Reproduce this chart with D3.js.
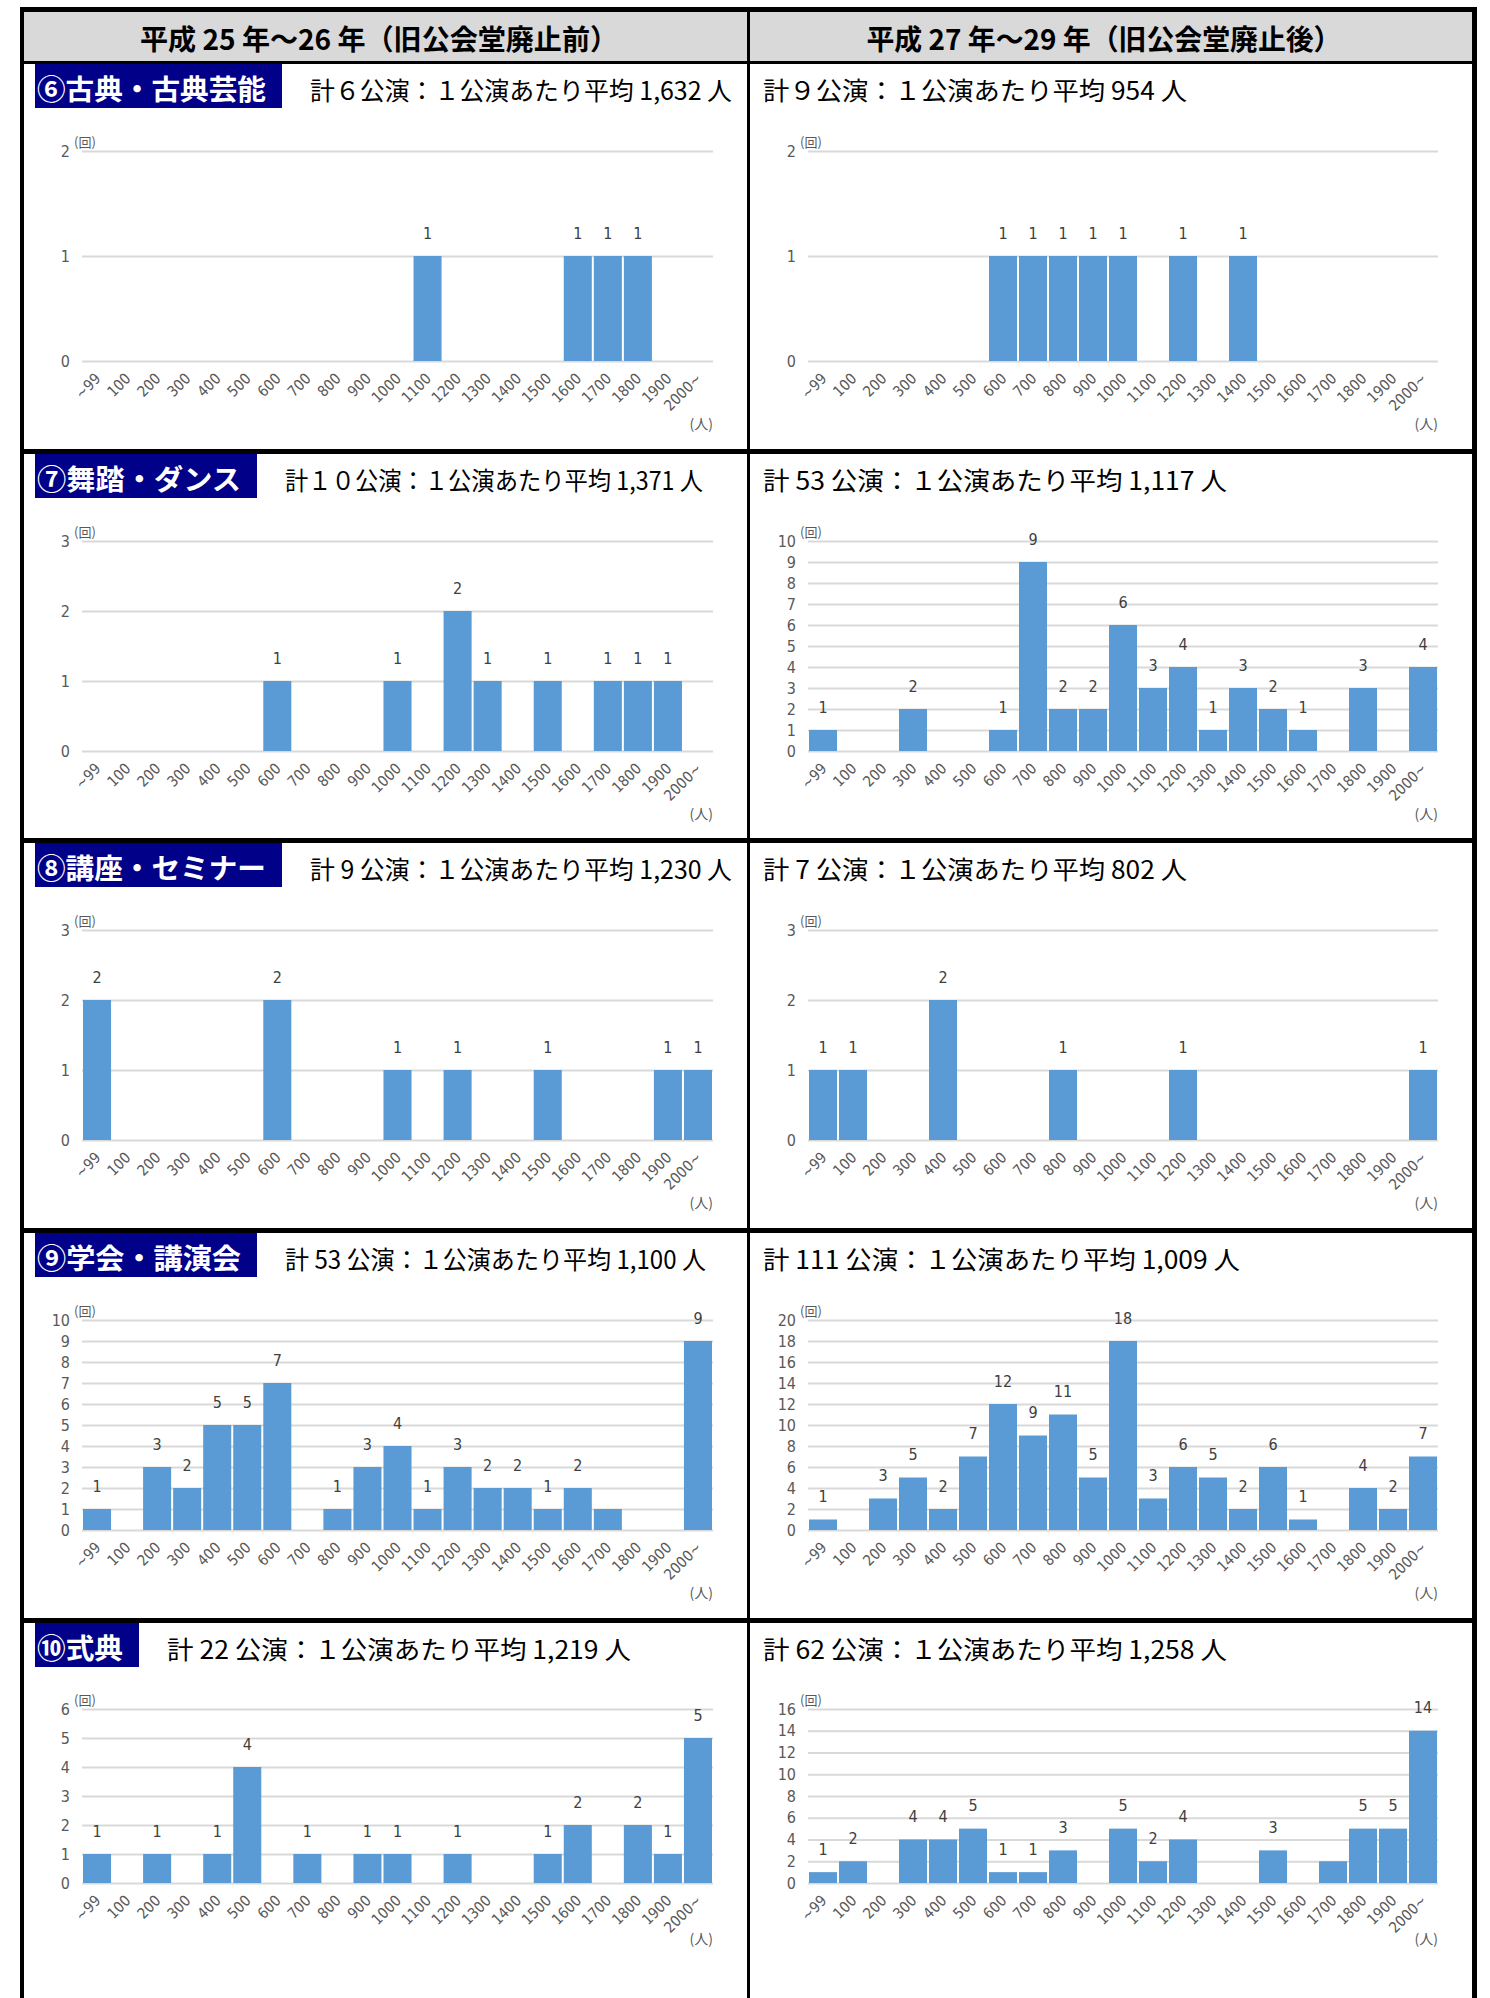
<!DOCTYPE html>
<html><head><meta charset="utf-8">
<script src="https://cdn.jsdelivr.net/npm/d3@7/dist/d3.min.js"></script>
<style>
html,body{margin:0;padding:0;background:#fff;}
svg{display:block;}
</style></head>
<body>
<script>
// ---------------- data ----------------
const categories = ["~99","100","200","300","400","500","600","700","800","900","1000","1100","1200","1300","1400","1500","1600","1700","1800","1900","2000~"];
const headerTitles = ["平成 25 年～26 年（旧公会堂廃止前）", "平成 27 年～29 年（旧公会堂廃止後）"];
const genreTitles = ["⑥古典・古典芸能", "⑦舞踏・ダンス", "⑧講座・セミナー", "⑨学会・講演会", "⑩式典"];
const subtitlesBefore = [
  "計６公演：１公演あたり平均 1,632 人",
  "計１０公演：１公演あたり平均 1,371 人",
  "計 9 公演：１公演あたり平均 1,230 人",
  "計 53 公演：１公演あたり平均 1,100 人",
  "計 22 公演：１公演あたり平均 1,219 人"
];
const subtitlesAfter = [
  "計９公演：１公演あたり平均 954 人",
  "計 53 公演：１公演あたり平均 1,117 人",
  "計 7 公演：１公演あたり平均 802 人",
  "計 111 公演：１公演あたり平均 1,009 人",
  "計 62 公演：１公演あたり平均 1,258 人"
];
const kotenBefore    = [0,0,0,0,0,0,0,0,0,0,0,1,0,0,0,0,1,1,1,0,0];
const kotenAfter     = [0,0,0,0,0,0,1,1,1,1,1,0,1,0,1,0,0,0,0,0,0];
const danceBefore    = [0,0,0,0,0,0,1,0,0,0,1,0,2,1,0,1,0,1,1,1,0];
const danceAfter     = [1,0,0,2,0,0,1,9,2,2,6,3,4,1,3,2,1,0,3,0,4];
const seminarBefore  = [2,0,0,0,0,0,2,0,0,0,1,0,1,0,0,1,0,0,0,1,1];
const seminarAfter   = [1,1,0,0,2,0,0,0,1,0,0,0,1,0,0,0,0,0,0,0,1];
const lectureBefore  = [1,0,3,2,5,5,7,0,1,3,4,1,3,2,2,1,2,1,0,0,9];
const lectureAfter   = [1,0,3,5,2,7,12,9,11,5,18,3,6,5,2,6,1,0,4,2,7];
const ceremonyBefore = [1,0,1,0,1,4,0,1,0,1,1,0,1,0,0,1,2,0,2,1,5];
const ceremonyAfter  = [1,2,0,4,4,5,1,1,3,0,5,2,4,0,0,3,0,2,5,5,14];
// y-axis maxima and tick steps, per row: [before, after]
const yMax   = [[2,2],[3,10],[3,3],[10,20],[6,16]];
const yStep  = [[1,1],[1,1],[1,1],[1,2],[1,2]];
// categories whose value label is not shown in the source
const hiddenLabels = {"3-0":["1700"], "4-1":["1700"]};
const series = [[kotenBefore,kotenAfter],[danceBefore,danceAfter],[seminarBefore,seminarAfter],[lectureBefore,lectureAfter],[ceremonyBefore,ceremonyAfter]];
const yUnit = "(回)", xUnit = "(人)";

// ---------------- layout ----------------
const W = 1490, H = 1998;
const JP = "'Noto Sans CJK JP','Noto Sans CJK SC',sans-serif";
const NUM = "'Liberation Sans Narrow','DejaVu Sans Condensed','Noto Sans',sans-serif";
const svg = d3.select("body").append("svg").attr("width", W).attr("height", H);
svg.append("rect").attr("width", W).attr("height", H).attr("fill", "#fff");

const frameL = 20, frameR = 1477, colX = 747;
const rowTops = [64, 454, 843, 1233, 1623];
const colPlot = [[82, 713], [808, 1438]];
const boxRight = [282, 257, 282, 257, 139];
const subWidthL = [422, 418, 422, 421, 464];
const subWidthR = [424, 464, 424, 477, 464];

// header
svg.append("rect").attr("x", frameL).attr("y", 8).attr("width", frameR - frameL).attr("height", 54).attr("fill", "#d9d9d9");
headerTitles.forEach((t, i) => {
  svg.append("text").attr("x", i === 0 ? 379 : 1104).attr("y", 37).attr("text-anchor", "middle")
    .attr("dominant-baseline", "central").attr("font-family", JP).attr("font-weight", 700)
    .attr("font-size", 28.5).attr("textLength", i === 0 ? 478 : 475).attr("lengthAdjust", "spacingAndGlyphs")
    .attr("fill", "#000").text(t);
});

function drawPanel(r, c) {
  const top = rowTops[r];
  const vals = series[r][c];
  const [px0, px1] = colPlot[c];
  const py0 = top + (r === 4 ? 86 : 87);
  const py1 = top + (r === 4 ? 260 : 297);
  const g = svg.append("g");

  // title box + subtitle
  let subX;
  if (c === 0) {
    g.append("rect").attr("x", 35).attr("y", top).attr("width", boxRight[r] - 35).attr("height", 44).attr("fill", "#000088");
    g.append("text").attr("x", 37).attr("y", top + 23).attr("dominant-baseline", "central")
      .attr("font-family", JP).attr("font-weight", 700).attr("font-size", 28.5).attr("fill", "#fff")
      .attr("textLength", boxRight[r] - 16 - 37).attr("lengthAdjust", "spacingAndGlyphs")
      .text(genreTitles[r]);
    subX = boxRight[r] + 28;
  } else {
    subX = 763;
  }
  g.append("text").attr("x", subX).attr("y", top + 25).attr("dominant-baseline", "central")
    .attr("font-family", JP).attr("font-size", 25).attr("fill", "#000")
    .attr("textLength", c === 0 ? subWidthL[r] : subWidthR[r]).attr("lengthAdjust", "spacingAndGlyphs")
    .text(c === 0 ? subtitlesBefore[r] : subtitlesAfter[r]);

  const x = d3.scaleBand().domain(categories).range([px0, px1]).padding(0);
  const y = d3.scaleLinear().domain([0, yMax[r][c]]).range([py1, py0]);
  const ticks = d3.range(0, yMax[r][c] + 0.001, yStep[r][c]);

  // gridlines
  g.append("g").attr("transform", `translate(${px0},0)`)
    .call(d3.axisLeft(y).tickValues(ticks).tickSize(-(px1 - px0)).tickFormat(""))
    .call(a => a.select(".domain").remove())
    .call(a => a.selectAll("line").attr("stroke", "#d9d9d9").attr("stroke-width", 2));

  // y tick labels
  g.append("g").attr("transform", `translate(${px0 - 4},0)`)
    .call(d3.axisLeft(y).tickValues(ticks).tickSize(0).tickPadding(8).tickFormat(d3.format("d")))
    .call(a => a.select(".domain").remove())
    .call(a => a.selectAll("text").attr("font-family", NUM).attr("font-size", 16).attr("fill", "#595959"));

  // unit labels
  g.append("text").attr("x", px0 - 8).attr("y", py0 - 4).attr("font-family", JP).attr("font-size", 13)
    .attr("fill", "#595959").text(yUnit);
  g.append("text").attr("x", px1).attr("y", py1 + (r === 4 ? 55 : 62)).attr("text-anchor", "end")
    .attr("dominant-baseline", "central").attr("font-family", JP).attr("font-size", 14)
    .attr("fill", "#595959").text(xUnit);

  // bars
  const data = categories.map((k, i) => ({k, v: vals[i]})).filter(d => d.v > 0);
  g.append("g").selectAll("rect").data(data).join("rect")
    .attr("x", d => x(d.k) + 1).attr("width", x.bandwidth() - 2)
    .attr("y", d => y(d.v)).attr("height", d => y(0) - y(d.v))
    .attr("fill", "#5b9bd5");

  // value labels
  const hidden = hiddenLabels[`${r}-${c}`] || [];
  g.append("g").selectAll("text").data(data.filter(d => !hidden.includes(d.k))).join("text")
    .attr("x", d => x(d.k) + x.bandwidth() / 2).attr("y", d => y(d.v) - 23)
    .attr("text-anchor", "middle").attr("dominant-baseline", "central")
    .attr("font-family", NUM).attr("font-size", 16).attr("fill", "#404040").text(d => d.v);

  // x tick labels
  g.append("g").attr("transform", `translate(0,${py1})`)
    .call(d3.axisBottom(x).tickSize(0).tickPadding(0))
    .call(a => a.select(".domain").remove())
    .call(a => a.selectAll("text")
      .attr("font-family", NUM).attr("font-size", 15).attr("fill", "#595959")
      .attr("text-anchor", "end").attr("dominant-baseline", "central").attr("dy", null).attr("y", null)
      .attr("transform", "translate(1,15) rotate(-45)"));
}

for (let r = 0; r < 5; r++) for (let c = 0; c < 2; c++) drawPanel(r, c);

// frame lines
const black = "#000";
svg.append("rect").attr("x", frameL).attr("y", 7).attr("width", frameR - frameL).attr("height", 5).attr("fill", black);
svg.append("rect").attr("x", frameL).attr("y", 61).attr("width", frameR - frameL).attr("height", 3).attr("fill", black);
svg.append("rect").attr("x", frameL).attr("y", 7).attr("width", 4).attr("height", H).attr("fill", black);
svg.append("rect").attr("x", 1472).attr("y", 7).attr("width", 5).attr("height", H).attr("fill", black);
svg.append("rect").attr("x", colX).attr("y", 7).attr("width", 3).attr("height", H).attr("fill", black);
[449, 838, 1228, 1618].forEach(yy => {
  svg.append("rect").attr("x", frameL).attr("y", yy).attr("width", frameR - frameL).attr("height", 5).attr("fill", black);
});
</script>
</body></html>
